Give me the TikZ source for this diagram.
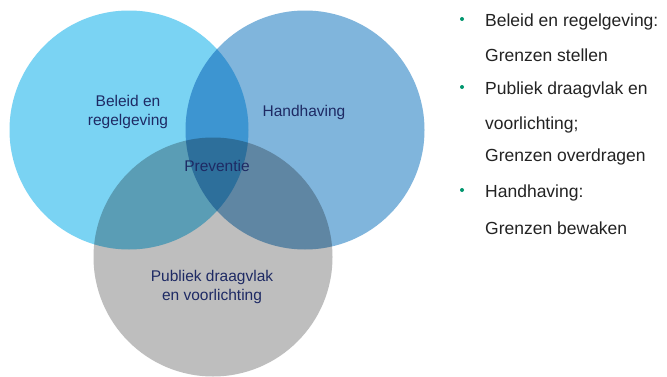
\documentclass[tikz,border=0pt]{standalone}
\usepackage{fontspec}
\setmainfont{Liberation Sans}
\usetikzlibrary{positioning}
\definecolor{beleidblue}{RGB}{122,211,243}
\definecolor{handblue}{RGB}{128,181,220}
\definecolor{grijs}{RGB}{190,190,190}
\definecolor{labelnavy}{RGB}{30,42,100}
\definecolor{bulletgreen}{RGB}{0,150,110}
\definecolor{listtext}{RGB}{35,35,35}

\begin{document}
\begin{tikzpicture}[x=1pt,y=1pt, venn/.style={circle, inner sep=0pt, minimum size=239pt, blend mode=multiply},
    lbl/.style={text=labelnavy, font=\fontsize{15.5}{19}\selectfont, align=center},
    item/.style={anchor=west, text=listtext, font=\fontsize{17.5}{21}\selectfont, inner sep=0pt},
    dot/.style={circle, fill=bulletgreen, inner sep=0pt, minimum size=4pt}]
    \useasboundingbox[fill=white] (0,0) rectangle (667,376);

    % de drie cirkels
    \node[venn, fill=beleidblue] (beleid) at (129,246) {};
    \node[venn, fill=handblue] (handhaving) at (305,246) {};
    \node[venn, fill=grijs] (publiek) at (213,119) {};

    \node[lbl] (beleidtxt) at (128,264) {Beleid en\\regelgeving};
    \node[lbl] (handtxt) at (304,264) {Handhaving};
    \node[lbl] (preventie) at (217,210) {Preventie};
    \node[lbl] (publiektxt) at (212,89) {Publiek draagvlak\\en voorlichting};

    % lijst rechts
    \node[item] (l1) at (485,354) {Beleid en regelgeving:};
    \node[item] (l2) at (485,321) {Grenzen stellen};
    \node[item] (l3) at (485,286) {Publiek draagvlak en};
    \node[item] (l4) at (485,251) {voorlichting;};
    \node[item] (l5) at (485,219) {Grenzen overdragen};
    \node[item] (l6) at (485,183) {Handhaving:};
    \node[item] (l7) at (485,148) {Grenzen bewaken};

    \node[dot] (b1) at (462,357) {};
    \node[dot] (b2) at (462,289) {};
    \node[dot] (b3) at (462,186) {};
\end{tikzpicture}
\end{document}
